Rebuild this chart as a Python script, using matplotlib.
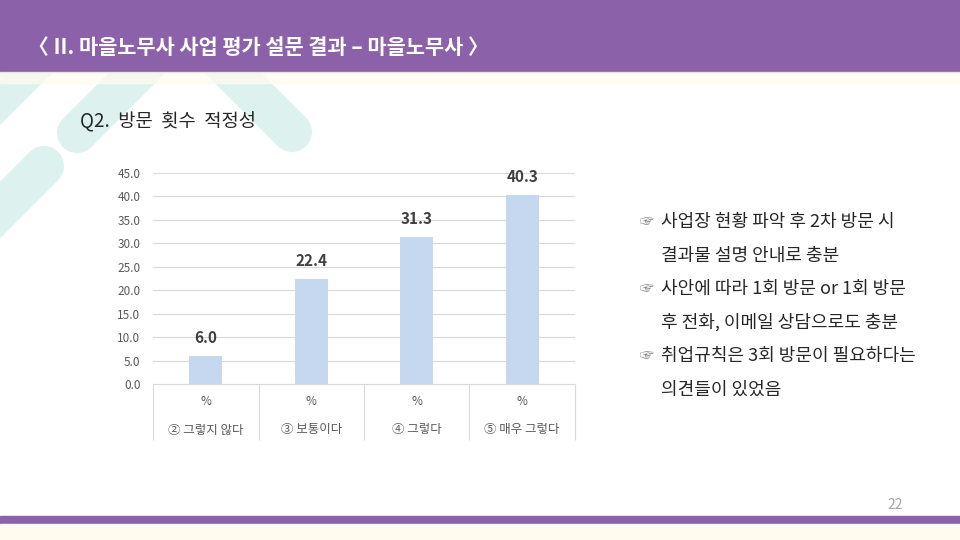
import matplotlib
matplotlib.use("Agg")
import matplotlib.pyplot as plt
from matplotlib.patches import Rectangle, Polygon, Circle

plt.rcParams['font.family'] = ['Noto Sans CJK KR', 'DejaVu Sans']

# 데이터
categories = ['② 그렇지 않다', '③ 보통이다', '④ 그렇다', '⑤ 매우 그렇다']
unit_row = ['%', '%', '%', '%']
values = [6.0, 22.4, 31.3, 40.3]
yticks = [0, 5, 10, 15, 20, 25, 30, 35, 40, 45]

header = '〈 II. 마을노무사 사업 평가 설문 결과 – 마을노무사 〉'
subtitle = 'Q2.  방문  횟수  적정성'
notes = [
    ('☞', '사업장 현황 파악 후 2차 방문 시'),
    ('', '결과물 설명 안내로 충분'),
    ('☞', '사안에 따라 1회 방문 or 1회 방문'),
    ('', '후 전화, 이메일 상담으로도 충분'),
    ('☞', '취업규칙은 3회 방문이 필요하다는'),
    ('', '의견들이 있었음'),
]
page_no = '22'

purple = '#8B62AA'
teal = '#DDF2EE'
cream = '#FFFBEF'
bar_color = '#C6D8F0'
grid_color = '#D9D9D9'

W, H = 960, 540
fig = plt.figure(figsize=(9.6, 5.4), dpi=100)

# 배경 (픽셀 좌표)
bg = fig.add_axes([0, 0, 1, 1])
bg.set_xlim(0, W)
bg.set_ylim(H, 0)
bg.axis('off')


def band(p0, p1, r=20):
    # 둥근 끝(p1)을 가진 대각선 띠
    dx, dy = p1[0] - p0[0], p1[1] - p0[1]
    n = (dx * dx + dy * dy) ** 0.5
    nx, ny = -dy / n * r, dx / n * r
    pts = [(p0[0] + nx, p0[1] + ny), (p1[0] + nx, p1[1] + ny),
           (p1[0] - nx, p1[1] - ny), (p0[0] - nx, p0[1] - ny)]
    bg.add_patch(Polygon(pts, closed=True, color=teal, lw=0, zorder=1))
    bg.add_patch(Circle(p1, r, color=teal, lw=0, zorder=1))


band((130, -33), (-40, 137))
band((210, 0), (77, 133))
band((160, 0), (292, 132))
band((-60, 270), (44, 166))

bg.add_patch(Rectangle((0, 0), W, 72, color=purple, zorder=3))
bg.add_patch(Rectangle((0, 72), W, 11, color=cream, alpha=0.75, zorder=3))
bg.add_patch(Rectangle((0, 516), W, 8, color=purple, zorder=3))
bg.add_patch(Rectangle((0, 524), W, 16, color=cream, zorder=3))

bg.text(28, 47, header, color='white', fontsize=15, fontweight='bold',
        va='center', ha='left', zorder=4)
bg.text(80, 122, subtitle, color='#262626', fontsize=13.5,
        va='center', ha='left', zorder=4)

y = 222
for mark, line in notes:
    if mark:
        bg.text(640, y, mark, color='#7F7F7F', fontsize=10,
                va='center', ha='left', zorder=4)
    bg.text(661, y, line, color='#262626', fontsize=13,
            va='center', ha='left', zorder=4)
    y += 33.5

bg.text(903, 505, page_no, color='#A6A6A6', fontsize=10,
        va='center', ha='right', zorder=4)

# 차트
left, right, top, bottom = 153, 575, 173, 384
ax = fig.add_axes([left / W, 1 - bottom / H, (right - left) / W, (bottom - top) / H])
ax.set_facecolor('none')

x = range(len(values))
ax.bar(x, values, width=0.31, color=bar_color, zorder=2)
for xi, v in zip(x, values):
    ax.annotate(f'{v:.1f}', (xi, v), xytext=(0, 13), textcoords='offset points',
                ha='center', va='center', fontsize=11, fontweight='bold',
                color='#404040')

ax.set_xlim(-0.5, len(values) - 0.5)
ax.set_ylim(0, 45)
ax.set_yticks(yticks)
ax.set_yticklabels([f'{t:.1f}' for t in yticks])
ax.tick_params(axis='y', length=0, pad=9, labelsize=8.5, labelcolor='#595959')
ax.set_xticks([])
ax.grid(axis='y', color=grid_color, lw=0.8, zorder=0)
for s in ['left', 'right', 'top']:
    ax.spines[s].set_visible(False)
ax.spines['bottom'].set_color(grid_color)
ax.spines['bottom'].set_linewidth(0.8)

# 항목 표
sep_x = [i - 0.5 for i in range(len(values) + 1)]
ax.vlines(sep_x, -0.265, 0, transform=ax.get_xaxis_transform(),
          colors=grid_color, lw=0.8, clip_on=False)
for xi, u, c in zip(x, unit_row, categories):
    ax.text(xi, -0.085, u, transform=ax.get_xaxis_transform(), ha='center',
            va='center', fontsize=8.5, color='#595959')
    ax.text(xi, -0.218, c, transform=ax.get_xaxis_transform(), ha='center',
            va='center', fontsize=9, color='#595959')

fig.savefig('out.png', dpi=100)
